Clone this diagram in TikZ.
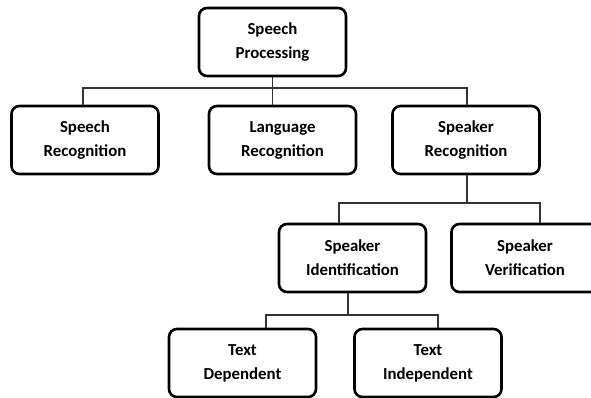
\documentclass[tikz,border=0pt]{standalone}
\usepackage{fontspec}
\setmainfont{Carlito}
\usetikzlibrary{calc}

\begin{document}
\begin{tikzpicture}[
  x = 1pt, y = -1pt,
  block/.style={draw, line width=2.6pt, rounded corners=8pt, minimum width=147pt,
    minimum height=68pt, align=center, font=\fontsize{16.8}{24}\selectfont\bfseries},
  link/.style={line width=1.2pt, black!80}
]
%general params
\def\busA{88}   %bus under level 0
\def\busB{203}  %bus under speaker recognition
\def\busC{315}  %bus under speaker identification
\useasboundingbox (0,0) rectangle (591,398);

%level 0
\node[block] (sp) at (272.5,42) {Speech\\Processing};

%level 1
\node[block] (srec) at (85,140)   {Speech\\Recognition};
\node[block] (lrec) at (282.5,140) {Language\\Recognition};
\node[block] (spkr) at (466,140)  {Speaker\\Recognition};

%level 2
\node[block] (sid)  at (352.5,258) {Speaker\\Identification};
\node[block] (sver) at (525,258)   {Speaker\\Verification};

%level 3
\node[block] (tdep) at (242.5,363) {Text\\Dependent};
\node[block] (tind) at (428,363)   {Text\\Independent};

%links level 0 -> 1
\draw[link] ([xshift=-2pt]srec.north) |- (sp.south |- 0,\busA) -| ([xshift=1pt]spkr.north);
\draw[link] (sp.south) -- (sp.south |- lrec.north);

%links level 1 -> 2
\draw[link] ([xshift=1pt]spkr.south) -- ([xshift=1pt]spkr.south |- 0,\busB);
\draw[link] ([xshift=-13.5pt]sid.north) |- ([xshift=1pt]spkr.south |- 0,\busB) -| ([xshift=15pt]sver.north);

%links level 2 -> 3
\draw[link] ([xshift=-4.5pt]sid.south) -- ([xshift=-4.5pt]sid.south |- 0,\busC);
\draw[link] ([xshift=23.5pt]tdep.north) |- ([xshift=-4.5pt]sid.south |- 0,\busC) -| ([xshift=10pt]tind.north);

\end{tikzpicture}
\end{document}
